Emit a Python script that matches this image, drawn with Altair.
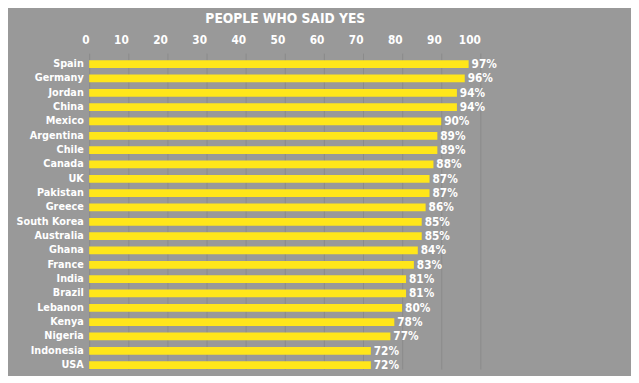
import altair as alt
import pandas as pd

countries = ["Spain", "Germany", "Jordan", "China", "Mexico", "Argentina", "Chile",
             "Canada", "UK", "Pakistan", "Greece", "South Korea", "Australia", "Ghana",
             "France", "India", "Brazil", "Lebanon", "Kenya", "Nigeria", "Indonesia", "USA"]
values = [97, 96, 94, 94, 90, 89, 89, 88, 87, 87, 86, 85, 85, 84, 83, 81, 81, 80, 78, 77, 72, 72]
tick_values = [0, 10, 20, 30, 40, 50, 60, 70, 80, 90, 100]
title_text = "PEOPLE WHO SAID YES"

df = pd.DataFrame({"country": countries, "value": values})
df["label"] = [f"{v}%" for v in values]

FONT = "DejaVu Sans Condensed"
BG = "#999999"
YELLOW = "#FFE61A"

y_enc = alt.Y(
    "country:N", sort=countries, title=None,
    scale=alt.Scale(paddingInner=0.46, paddingOuter=0.25, align=1),
    axis=alt.Axis(labelFont=FONT, labelFontSize=11, labelFontWeight="bold",
                  labelColor="white", labelPadding=6, ticks=False, domain=False,
                  grid=False, minExtent=83, maxExtent=83),
)
x_enc = alt.X(
    "value:Q", scale=alt.Scale(domain=[0, 100]), title=title_text,
    axis=alt.Axis(orient="top", values=tick_values, labelAlign="right",
                  labelOverlap=False,
                  labelFont=FONT, labelFontSize=12, labelFontWeight="bold",
                  labelColor="white", labelPadding=7, ticks=False, tickSize=0,
                  domain=False, grid=True, gridColor="#8a8a8a", gridWidth=1,
                  titleFont=FONT, titleFontSize=14, titleFontWeight="bold",
                  titleColor="white", titlePadding=8),
)

bars = alt.Chart(df).mark_bar(color=YELLOW).encode(x=x_enc, y=y_enc)
text = alt.Chart(df).mark_text(
    align="left", baseline="middle", dx=3, font=FONT, fontSize=12,
    fontWeight="bold", color="white",
).encode(x=x_enc, y=y_enc, text="label:N")

chart = (bars + text).properties(
    width=400, height=323,
    padding={"left": 0, "top": 0, "right": 137, "bottom": 0},
).configure(background=BG).configure_view(stroke=None)

chart.save("out.html", embed_options={"renderer": "svg", "actions": False})
